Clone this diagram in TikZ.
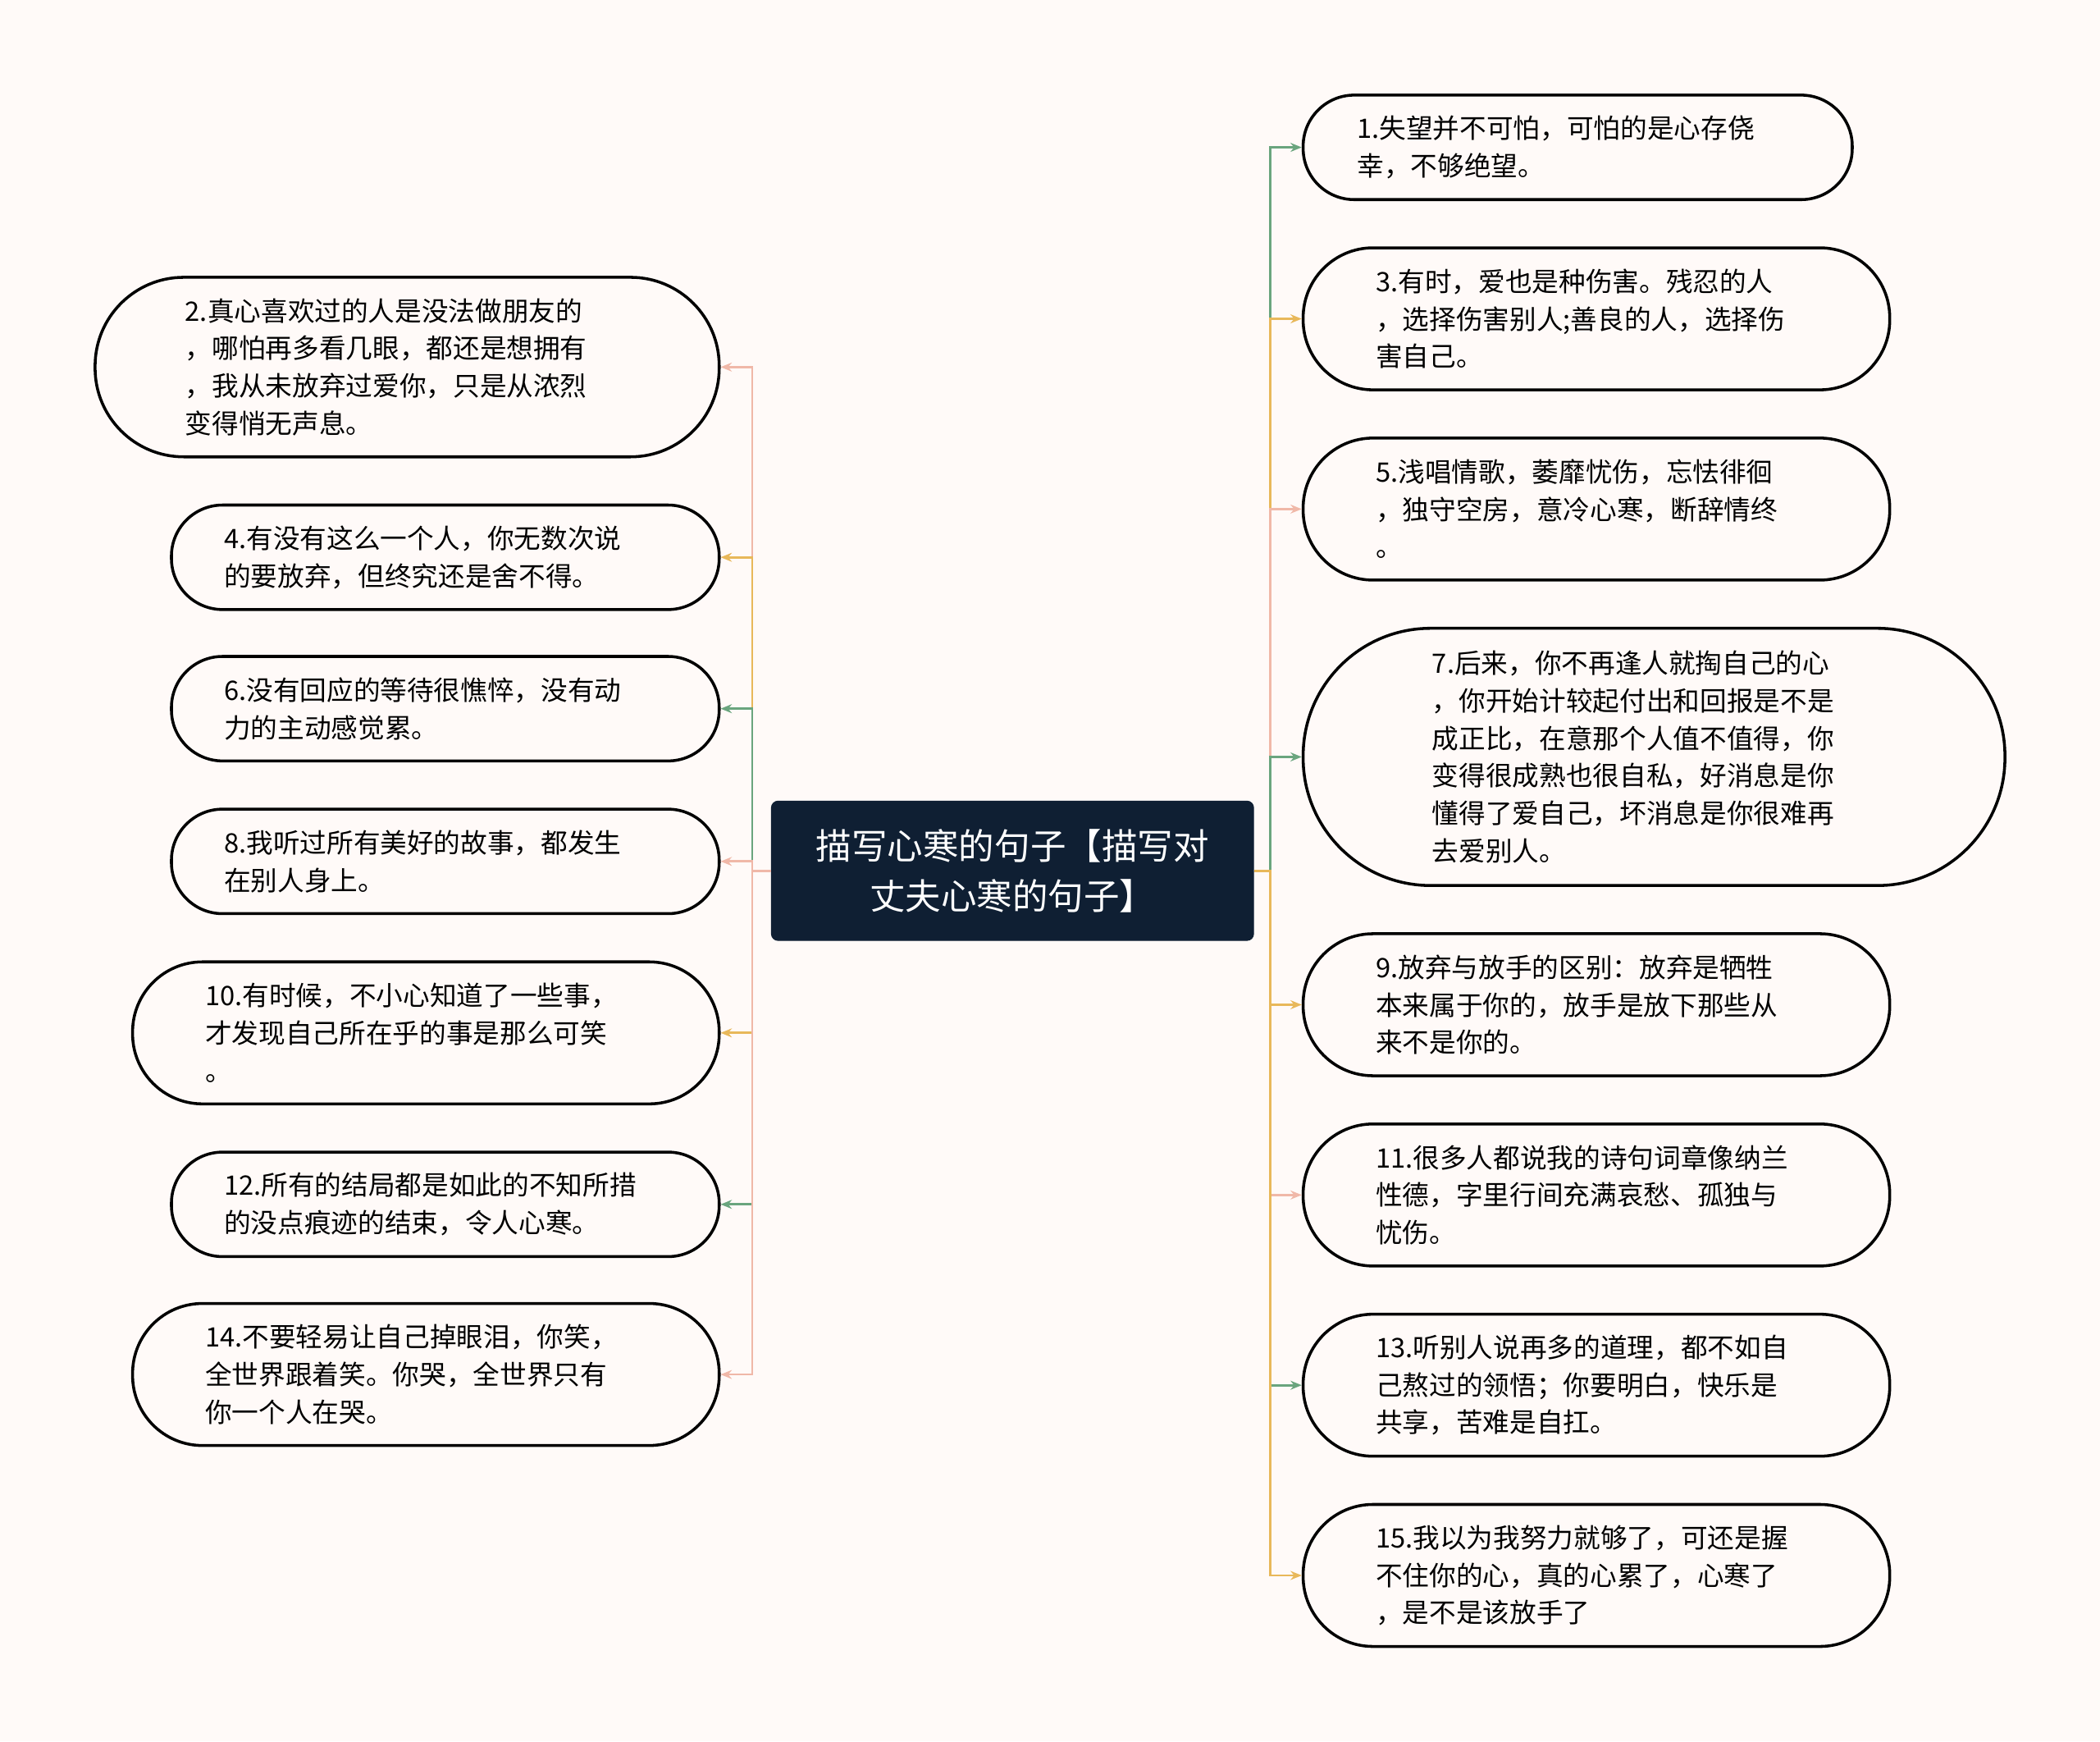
\documentclass[tikz,border=0pt]{standalone}
\usepackage{fontspec}
\setmainfont{Noto Sans CJK SC}
\usetikzlibrary{arrows.meta}
\definecolor{bg}{HTML}{FFFAF8}
\definecolor{cg}{HTML}{6AA57E}
\definecolor{cy}{HTML}{E8B85A}
\definecolor{cp}{HTML}{F0B8A8}
\definecolor{navy}{HTML}{0F1F33}
\tikzset{
 leafbox/.style={draw=black,line width=1.3pt,fill=bg,inner sep=0pt},
 leaftext/.style={anchor=west,align=left,inner sep=0pt,font=\fontsize{12}{16.8}\selectfont},
 conn/.style={line width=1pt,-{Stealth[length=5pt,width=4pt]}},
}
% \leaf{name}{x1}{y1}{x2}{y2}{textoffset}{textwidth}{text}
\newcommand{\leafnode}[8]{%
 \pgfmathsetmacro{\rr}{0.6*((#5)-(#3))/2-0.5}
 \node[leafbox,rounded corners=\rr pt,minimum width={0.6pt*((#4)-(#2))},minimum height={0.6pt*((#5)-(#3))}] (#1) at ({((#2)+(#4))/2},{((#3)+(#5))/2}) {};
 \node[leaftext,text width={0.6pt*(#7)}] (#1t) at ({(#2)+(#6)},{((#3)+(#5))/2}) {#8};
}
\begin{document}
\begin{tikzpicture}[x=0.6pt,y=-0.6pt]
\fill[bg] (0,0) rectangle (1568,1300);
\useasboundingbox (0,0) rectangle (1568,1300);
\node[fill=navy,rounded corners=3pt,minimum width=216pt,minimum height=62.4pt,text=white,align=center,font=\fontsize{16}{22.5}\selectfont,draw=navy] (c) at (756,650) {描写心寒的句子【描写对\\丈夫心寒的句子】};
% right
\leafnode{b1}{973}{71}{1383}{149}{40}{330}{1.失望并不可怕，可怕的是心存侥\\幸，不够绝望。}
\leafnode{b3}{973}{185}{1411}{291}{54}{330}{3.有时，爱也是种伤害。残忍的人\\，选择伤害别人;善良的人，选择伤\\害自己。}
\leafnode{b5}{973}{327}{1411}{433}{54}{330}{5.浅唱情歌，萎靡忧伤，忘怯徘徊\\，独守空房，意冷心寒，断辞情终\\。}
\leafnode{b7}{973}{469}{1497}{661}{96}{330}{7.后来，你不再逢人就掏自己的心\\，你开始计较起付出和回报是不是\\成正比，在意那个人值不值得，你\\变得很成熟也很自私，好消息是你\\懂得了爱自己，坏消息是你很难再\\去爱别人。}
\leafnode{b9}{973}{697}{1411}{803}{54}{330}{9.放弃与放手的区别：放弃是牺牲\\本来属于你的，放手是放下那些从\\来不是你的。}
\leafnode{b11}{973}{839}{1411}{945}{54}{340}{11.很多人都说我的诗句词章像纳兰\\性德，字里行间充满哀愁、孤独与\\忧伤。}
\leafnode{b13}{973}{981}{1411}{1087}{54}{340}{13.听别人说再多的道理，都不如自\\己熬过的领悟；你要明白，快乐是\\共享，苦难是自扛。}
\leafnode{b15}{973}{1123}{1411}{1229}{54}{340}{15.我以为我努力就够了，可还是握\\不住你的心，真的心累了，心寒了\\，是不是该放手了}
% left
\leafnode{b2}{71}{207}{537}{341}{67}{330}{2.真心喜欢过的人是没法做朋友的\\，哪怕再多看几眼，都还是想拥有\\，我从未放弃过爱你，只是从浓烈\\变得悄无声息。}
\leafnode{b4}{128}{377}{537}{455}{39}{330}{4.有没有这么一个人，你无数次说\\的要放弃，但终究还是舍不得。}
\leafnode{b6}{128}{490}{537}{568}{39}{330}{6.没有回应的等待很憔悴，没有动\\力的主动感觉累。}
\leafnode{b8}{128}{604}{537}{682}{39}{330}{8.我听过所有美好的故事，都发生\\在别人身上。}
\leafnode{b10}{99}{718}{537}{824}{54}{330}{10.有时候，不小心知道了一些事，\\才发现自己所在乎的事是那么可笑\\。}
\leafnode{b12}{128}{860}{537}{938}{39}{340}{12.所有的结局都是如此的不知所措\\的没点痕迹的结束，令人心寒。}
\leafnode{b14}{99}{973}{537}{1079}{54}{330}{14.不要轻易让自己掉眼泪，你笑，\\全世界跟着笑。你哭，全世界只有\\你一个人在哭。}
% connectors
\foreach \n/\col in {b1/cg,b3/cy,b5/cp,b7/cg,b9/cy,b11/cp,b13/cg,b15/cy}
 \draw[conn,\col] (c.east) -- ++(12,0) |- (\n.west);
\foreach \n/\col in {b2/cp,b4/cy,b6/cg,b8/cp,b10/cy,b12/cg,b14/cp}
 \draw[conn,\col] (c.west) -- ++(-14,0) |- (\n.east);
\end{tikzpicture}
\end{document}
